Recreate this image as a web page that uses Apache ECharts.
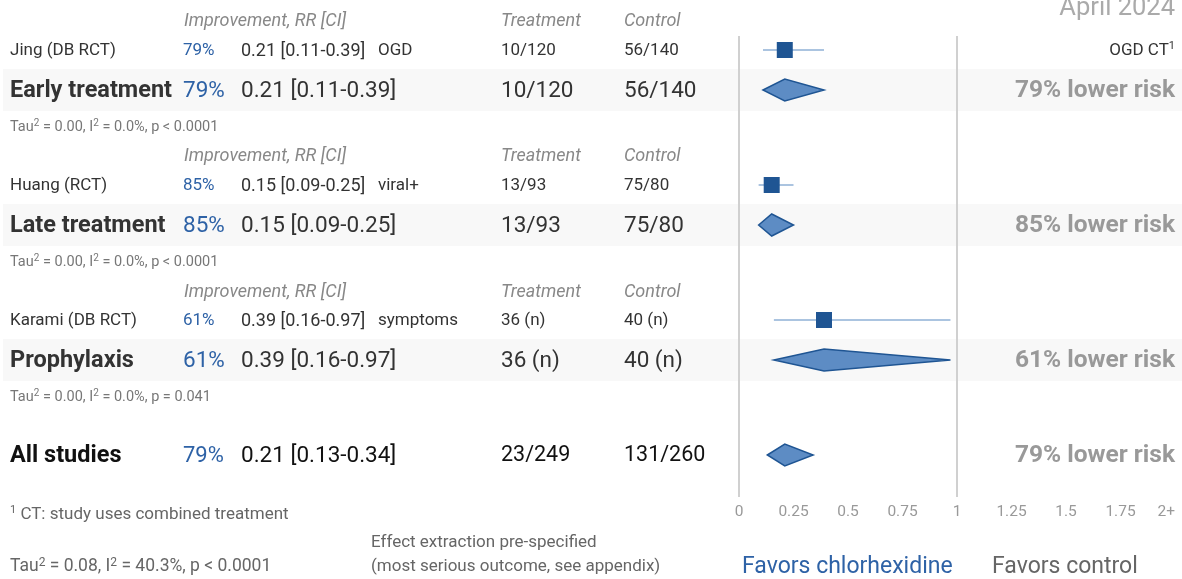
<!DOCTYPE html>
<html>
<head>
<meta charset="utf-8">
<script src="https://cdn.jsdelivr.net/npm/echarts@6/dist/echarts.min.js"></script>
<style>
  html, body { margin: 0; padding: 0; background: #fff; }
  #chart { width: 1182px; height: 579px; }
</style>
</head>
<body>
<div id="chart"></div>
<script>
// studies
const studyNames = ['Jing (DB RCT)', 'Huang (RCT)', 'Karami (DB RCT)']
const studyImprovement = ['79%', '85%', '61%']
const studyRR = [0.21, 0.15, 0.39]
const studyLo = [0.11, 0.09, 0.16]
const studyHi = [0.39, 0.25, 0.97]
const studyOutcome = ['OGD', 'viral+', 'symptoms']
const studyTreatment = ['10/120', '13/93', '36 (n)']
const studyControl = ['56/140', '75/80', '40 (n)']
const studyNote = ['OGD CT{s|1}', '', '']

// subgroup summaries
const groupNames = ['Early treatment', 'Late treatment', 'Prophylaxis']
const groupImprovement = ['79%', '85%', '61%']
const groupRR = [0.21, 0.15, 0.39]
const groupLo = [0.11, 0.09, 0.16]
const groupHi = [0.39, 0.25, 0.97]
const groupTreatment = ['10/120', '13/93', '36 (n)']
const groupControl = ['56/140', '75/80', '40 (n)']
const groupRisk = ['79% lower risk', '85% lower risk', '61% lower risk']
const groupHet = ['Tau{s|2} = 0.00, I{s|2} = 0.0%, p < 0.0001', 'Tau{s|2} = 0.00, I{s|2} = 0.0%, p < 0.0001', 'Tau{s|2} = 0.00, I{s|2} = 0.0%, p = 0.041']

// all studies
const allImprovement = '79%'
const allRR = 0.21
const allLo = 0.13
const allHi = 0.34
const allTreatment = '23/249'
const allControl = '131/260'
const allRisk = '79% lower risk'
const allHet = 'Tau{s|2} = 0.08, I{s|2} = 40.3%, p < 0.0001'

const tickLabels = ['0', '0.25', '0.5', '0.75', '1', '1.25', '1.5', '1.75', '2+']

// layout (pixel rows)
const headerY = [20, 155, 291]
const studyY = [50, 185, 320]
const groupY = [90, 225, 360]
const hetY = [126, 261, 396]
const allY = 455

const BLUE = '#2e62a6'
const DARK = '#1f5593'
const FONT = 'Roboto, "Open Sans", sans-serif'

let chart = echarts.init(document.getElementById('chart'))

let graphics = []
let txt = (x, y, text, style) => {
  let fs = (style && style.fontSize) || 17
  graphics.push({
    type: 'text', x: x, y: y + 1, z: 10,
    style: Object.assign({
      text: text, fontFamily: FONT, fontSize: 17, fill: '#333', verticalAlign: 'middle',
      rich: { s: { fontSize: Math.round(fs * 0.66), padding: [0, 0, Math.round(fs * 0.5), 0], fontFamily: FONT } }
    }, style)
  })
}

// bands behind summary rows
groupY.forEach(y => {
  graphics.push({ type: 'rect', z: -10, shape: { x: 3, y: y - 21, width: 1179, height: 42 }, style: { fill: '#f8f8f8' } })
})

headerY.forEach(y => {
  txt(184, y, 'Improvement, RR [CI]', { fill: '#888', fontStyle: 'italic', fontSize: 18 })
  txt(501, y, 'Treatment', { fill: '#888', fontStyle: 'italic', fontSize: 18 })
  txt(624, y, 'Control', { fill: '#888', fontStyle: 'italic', fontSize: 18 })
})

studyNames.forEach((name, i) => {
  let y = studyY[i]
  txt(10, y, name)
  txt(183, y, studyImprovement[i], { fill: BLUE })
  txt(241, y, studyRR[i].toFixed(2) + ' [' + studyLo[i].toFixed(2) + '-' + studyHi[i].toFixed(2) + ']', { fontSize: 18 })
  txt(378, y, studyOutcome[i])
  txt(501, y, studyTreatment[i])
  txt(624, y, studyControl[i])
  if (studyNote[i]) txt(1175, y, studyNote[i], { align: 'right', fontSize: 17 })
})

groupNames.forEach((name, i) => {
  let y = groupY[i]
  txt(10, y, name, { fontSize: 23.5, fontWeight: 'bold' })
  txt(183, y, groupImprovement[i], { fill: BLUE, fontSize: 22.5 })
  txt(241, y, groupRR[i].toFixed(2) + ' [' + groupLo[i].toFixed(2) + '-' + groupHi[i].toFixed(2) + ']', { fontSize: 22.5 })
  txt(501, y, groupTreatment[i], { fontSize: 22.5 })
  txt(624, y, groupControl[i], { fontSize: 22.5 })
  txt(1175, y, groupRisk[i], { fontSize: 24.5, fontWeight: 'bold', fill: '#999', align: 'right' })
  txt(10, hetY[i], groupHet[i], { fontSize: 14.5, fill: '#777' })
})

txt(10, allY, 'All studies', { fontSize: 23.5, fontWeight: 'bold', fill: '#111' })
txt(183, allY, allImprovement, { fill: BLUE, fontSize: 22 })
txt(241, allY, allRR.toFixed(2) + ' [' + allLo.toFixed(2) + '-' + allHi.toFixed(2) + ']', { fontSize: 22.5, fill: '#111' })
txt(501, allY, allTreatment, { fontSize: 21.5, fill: '#111' })
txt(624, allY, allControl, { fontSize: 21.5, fill: '#111' })
txt(1175, allY, allRisk, { fontSize: 24.5, fontWeight: 'bold', fill: '#999', align: 'right' })

txt(10, 514, '{s|1} CT: study uses combined treatment', { fill: '#666' })
txt(10, 566, allHet, { fill: '#666', fontSize: 17.5 })
txt(371, 542, 'Effect extraction pre-specified', { fill: '#666' })
txt(371, 566, '(most serious outcome, see appendix)', { fill: '#666' })
txt(742, 566, 'Favors chlorhexidine', { fontSize: 23, fill: BLUE })
txt(992, 566, 'Favors control', { fontSize: 23, fill: '#666' })
txt(1175, 8, 'April 2024', { fontSize: 25.5, fill: '#aaa', align: 'right' })

// marks
let ciData = studyRR.map((v, i) => [studyLo[i], studyHi[i], studyY[i]])
let squareData = studyRR.map((v, i) => [v, studyY[i]])
let diamondData = groupRR.map((v, i) => [groupLo[i], v, groupHi[i], groupY[i]])
diamondData.push([allLo, allRR, allHi, allY])

let option = {
  animation: false,
  grid: { left: 739, right: 7, top: 0, bottom: 82 },
  xAxis: {
    type: 'value',
    min: 0,
    max: 2,
    interval: 0.25,
    axisLine: { show: false },
    axisTick: { show: false },
    splitLine: { show: false },
    axisLabel: {
      color: '#999',
      fontSize: 15.5,
      fontFamily: FONT,
      margin: 7,
      alignMaxLabel: 'right',
      formatter: (v) => tickLabels[Math.round(v / 0.25)]
    }
  },
  yAxis: { type: 'value', min: 0, max: 497, inverse: true, show: false },
  graphic: graphics,
  series: [
    {
      type: 'line',
      data: [],
      silent: true,
      markLine: {
        symbol: 'none',
        label: { show: false },
        lineStyle: { color: '#d0d0d0', width: 2, type: 'solid' },
        data: [
          [{ coord: [0, 36] }, { coord: [0, 497] }],
          [{ coord: [1, 36] }, { coord: [1, 497] }]
        ]
      }
    },
    {
      type: 'custom',
      data: ciData,
      renderItem (params, api) {
        let a = api.coord([api.value(0), api.value(2)])
        let b = api.coord([api.value(1), api.value(2)])
        return { type: 'line', shape: { x1: a[0], y1: a[1], x2: b[0], y2: b[1] }, style: { stroke: '#8fb0d6', lineWidth: 1.5 } }
      }
    },
    {
      type: 'scatter',
      data: squareData,
      symbol: 'rect',
      symbolSize: 16,
      itemStyle: { color: DARK, opacity: 1 },
      z: 5
    },
    {
      type: 'custom',
      data: diamondData,
      renderItem (params, api) {
        let y = api.value(3)
        let l = api.coord([api.value(0), y])
        let c = api.coord([api.value(1), y])
        let r = api.coord([api.value(2), y])
        return {
          type: 'polygon',
          shape: { points: [[l[0], y], [c[0], y - 11], [r[0], y], [c[0], y + 11]] },
          style: { fill: '#5d8cc4', stroke: DARK, lineWidth: 1.5 }
        }
      }
    }
  ]
}
chart.setOption(option)
</script>
</body>
</html>
